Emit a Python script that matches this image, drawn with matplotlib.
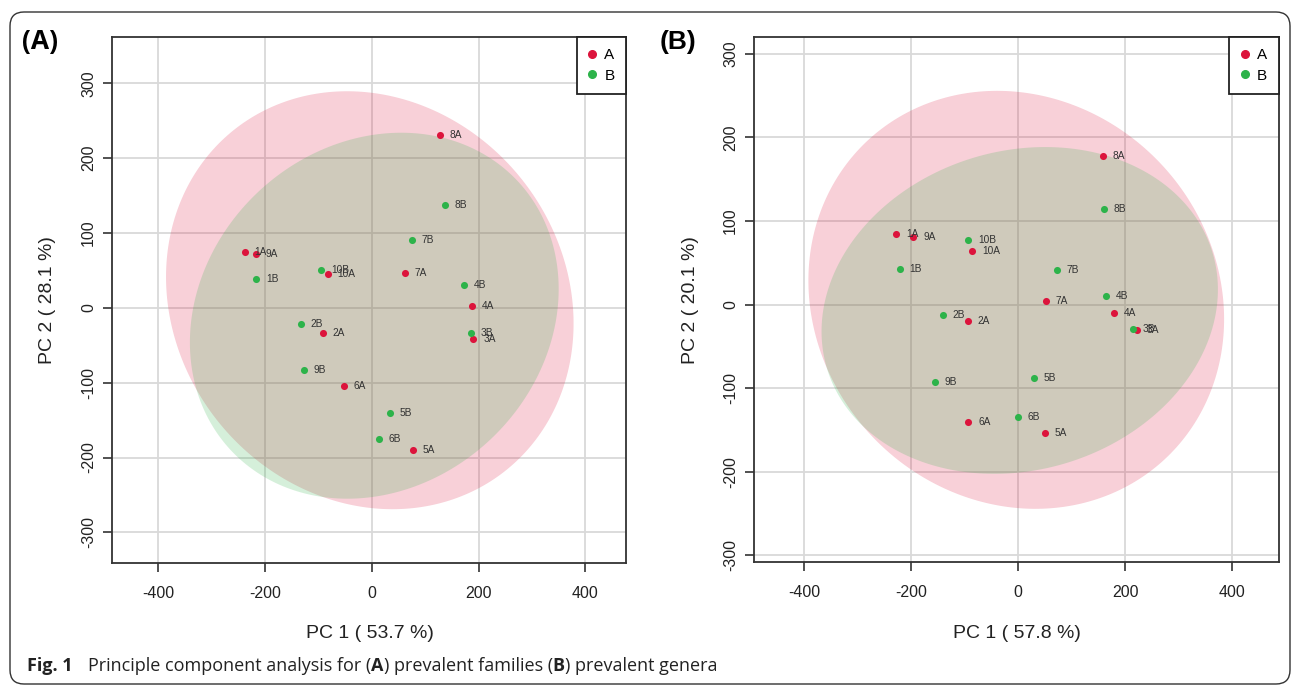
import numpy as np
import matplotlib
matplotlib.use("Agg")
import matplotlib.pyplot as plt
from matplotlib.patches import FancyBboxPatch
from matplotlib.lines import Line2D
from matplotlib.transforms import IdentityTransform

# sample numbers, same order in both groups
sample_ids = ["1", "2", "3", "4", "5", "6", "7", "8", "9", "10"]

# (A) prevalent families - PC scores
fam_a_pc1 = [-238, -92, 190, 188, 76, -53, 62, 127, -217, -83]
fam_a_pc2 = [75, -33, -41, 2, -190, -105, 46, 231, 72, 45]
fam_b_pc1 = [-217, -133, 185, 172, 34, 13, 75, 137, -127, -95]
fam_b_pc2 = [38, -21, -34, 31, -140, -175, 91, 138, -83, 50]
fam_var = (53.7, 28.1)

# (B) prevalent genera
gen_a_pc1 = [-228, -94, 222, 180, 50, -93, 52, 158, -196, -86]
gen_a_pc2 = [84, -20, -31, -10, -154, -140, 4, 178, 81, 64]
gen_b_pc1 = [-221, -141, 215, 164, 29, -1, 72, 161, -155, -93]
gen_b_pc2 = [43, -12, -29, 10, -88, -134, 41, 114, -93, 77]
gen_var = (57.8, 20.1)

RED = "#DC143C"
GREEN = "#2DB34A"
W, H = 1295, 686

plt.rcParams['font.family'] = ['Liberation Sans', 'DejaVu Sans']
plt.rcParams['axes.unicode_minus'] = False


def fx(px):
    return px / W


def fy(py):
    return 1 - py / H


def conf_ellipse(x, y, level=0.95, n=300):
    # 95% normal confidence region of a group, like ellipse() in R
    x = np.asarray(x, float)
    y = np.asarray(y, float)
    vals, vecs = np.linalg.eigh(np.cov(x, y))
    r = np.sqrt(-2 * np.log(1 - level))
    t = np.linspace(0, 2 * np.pi, n)
    pts = vecs @ (np.sqrt(vals)[:, None] * np.vstack([np.cos(t), np.sin(t)])) * r
    return x.mean() + pts[0], y.mean() + pts[1]


def pca_panel(ax, a_x, a_y, b_x, b_y, xlim, ylim):
    ax.set_xlim(xlim)
    ax.set_ylim(ylim)
    ax.set_xticks(np.arange(-400, 401, 200))
    ax.set_yticks(np.arange(-300, 301, 100))
    ax.grid(True, color="#d9d9d9", lw=1.3)
    ax.set_axisbelow(True)

    groups = [(a_x, a_y, RED, "A"), (b_x, b_y, GREEN, "B")]
    for xs, ys, col, g in groups:
        ex, ey = conf_ellipse(xs, ys)
        ax.fill(ex, ey, color=col, alpha=0.2, lw=0, zorder=1)
    for xs, ys, col, g in groups:
        ax.scatter(xs, ys, s=26, color=col, lw=0, zorder=3)
        for sid, x, y in zip(sample_ids, xs, ys):
            ax.annotate(sid + g, (x, y), xytext=(7, 0), textcoords='offset points',
                        fontsize=7.3, va='center', color='#333333', zorder=4)

    for s in ax.spines.values():
        s.set_linewidth(1.3)
        s.set_color('#333333')
    ax.tick_params(axis='both', direction='out', length=6.5, width=1.2,
                   color='#333333', labelsize=11.5, labelcolor='#222222')
    ax.tick_params(axis='x', pad=10)
    ax.tick_params(axis='y', pad=5, labelrotation=90)
    for lab in ax.get_yticklabels():
        lab.set_va('center')

    handles = [Line2D([], [], marker='o', ls='', color=RED, markersize=5.5, label='A'),
               Line2D([], [], marker='o', ls='', color=GREEN, markersize=5.5, label='B')]
    leg = ax.legend(handles=handles, loc='upper right', borderaxespad=0, fancybox=False,
                    edgecolor='#222222', framealpha=1, fontsize=11, handlelength=0.5,
                    handletextpad=0.55, borderpad=0.75, labelspacing=0.4)
    leg.get_frame().set_linewidth(1.3)


fig = plt.figure(figsize=(W / 100, H / 100), dpi=100)

ax1 = fig.add_axes([fx(112), fy(563), fx(626) - fx(112), fy(37) - fy(563)])
pca_panel(ax1, fam_a_pc1, fam_a_pc2, fam_b_pc1, fam_b_pc2, (-487, 476), (-341, 362))

ax2 = fig.add_axes([fx(754), fy(562), fx(1278.5) - fx(754), fy(37) - fy(562)])
pca_panel(ax2, gen_a_pc1, gen_a_pc2, gen_b_pc1, gen_b_pc2, (-494, 487), (-308, 320))

# axis titles
fig.text(fx(370), fy(634), "PC 1 ( %.1f %%)" % fam_var[0], fontsize=14, ha='center', va='center', color='#222222')
fig.text(fx(48), fy(300), "PC 2 ( %.1f %%)" % fam_var[1], fontsize=14, ha='center', va='center',
         rotation=90, color='#222222')
fig.text(fx(1017), fy(634), "PC 1 ( %.1f %%)" % gen_var[0], fontsize=14, ha='center', va='center', color='#222222')
fig.text(fx(690), fy(300), "PC 2 ( %.1f %%)" % gen_var[1], fontsize=14, ha='center', va='center',
         rotation=90, color='#222222')

# panel letters
fig.text(fx(22), fy(41), "(A)", fontsize=19, weight='bold', ha='left', va='center', family='Open Sans')
fig.text(fx(660), fy(42), "(B)", fontsize=19, weight='bold', ha='left', va='center')

# caption, drawn piece by piece so the bold letters sit inline
fig.text(fx(27), fy(666), "Fig. 1", fontsize=13, weight='bold', family='Open Sans',
         ha='left', va='center', color='#222222')
pieces = [("Principle component analysis for (", 'normal'), ("A", 'bold'),
          (") prevalent families (", 'normal'), ("B", 'bold'), (") prevalent genera", 'normal')]
renderer = fig.canvas.get_renderer()
xpos = 88
for txt, wt in pieces:
    t = fig.text(fx(xpos), fy(666), txt, fontsize=13, weight=wt, family='Open Sans',
                 ha='left', va='center', color='#222222')
    xpos = t.get_window_extent(renderer).x1

# rounded frame round the whole figure
frame = FancyBboxPatch((10, 2), 1280, 672, boxstyle="round,pad=0,rounding_size=14",
                       transform=IdentityTransform(), fill=False, ec='#333333', lw=1.0)
fig.add_artist(frame)

fig.savefig("out.png", dpi=100)
